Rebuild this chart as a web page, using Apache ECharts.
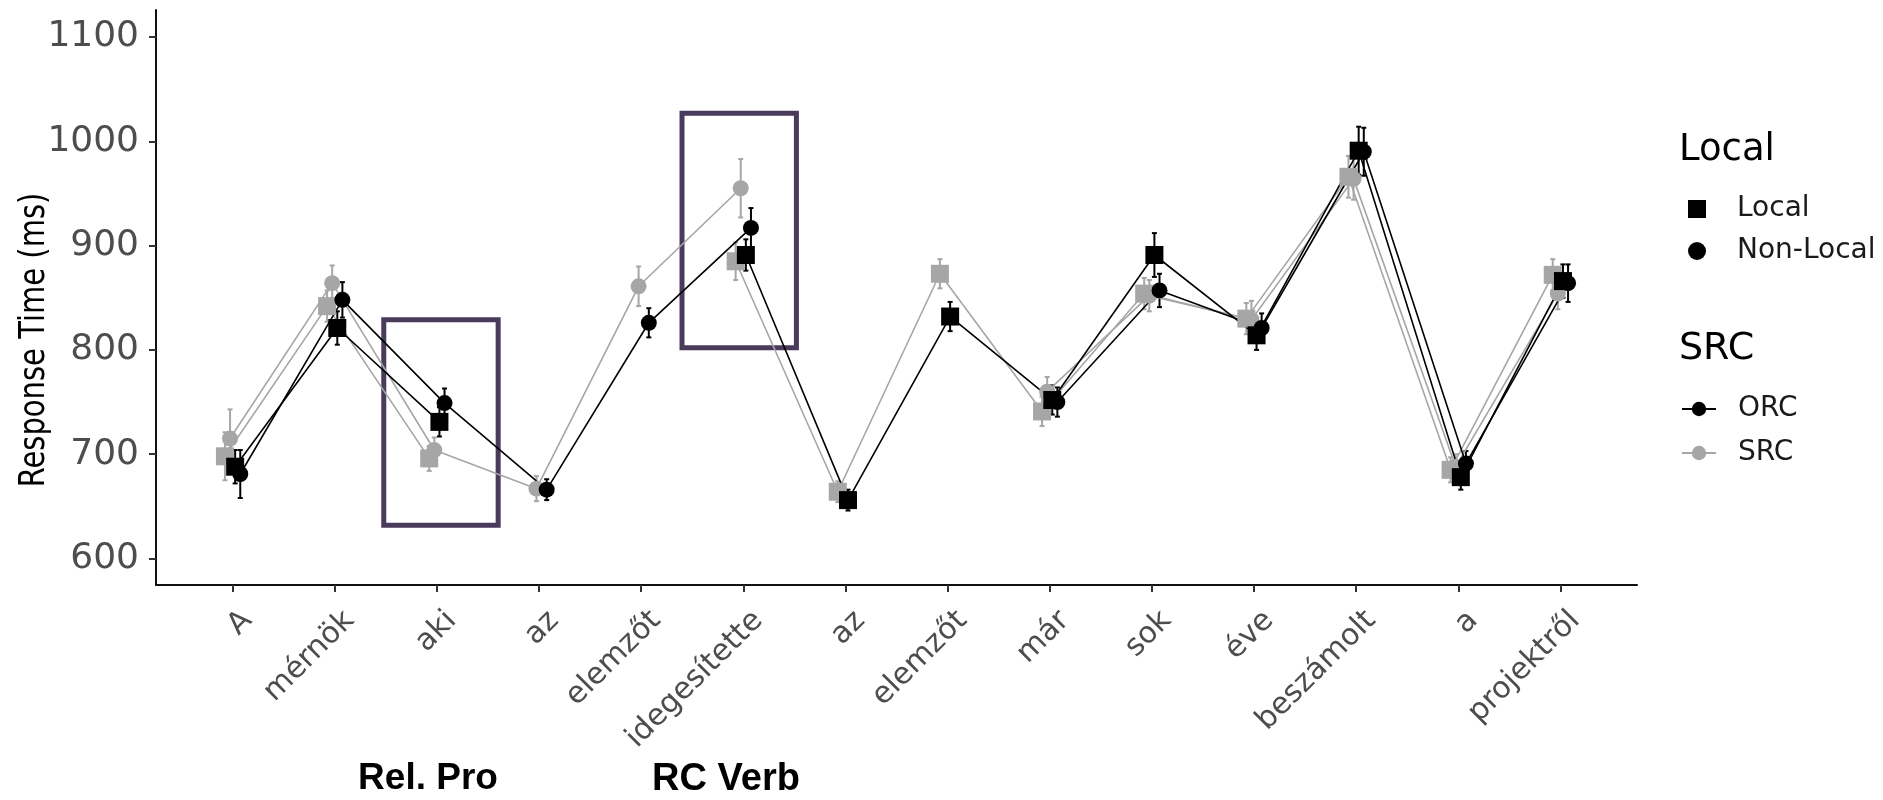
<!DOCTYPE html>
<html lang="hu">
<head>
    <meta charset="UTF-8">
    <title>Response Time (ms) per word</title>
    <script src="https://cdn.jsdelivr.net/npm/echarts@6.0.0/dist/echarts.min.js"></script>
    <style>
        html, body { margin: 0; padding: 0; background: #fff; }
        #chart { width: 1883px; height: 800px; }
    </style>
</head>
<body>
<div id="chart"></div>
<script type="text/javascript">
    // words of the sentence (x axis)
    var words = ['A', 'mérnök', 'aki', 'az', 'elemzőt', 'idegesítette', 'az', 'elemzőt', 'már', 'sok', 'éve', 'beszámolt', 'a', 'projektről'];
    var yTicks = [600, 700, 800, 900, 1000, 1100];

    // mean response times, null = word not present in that condition
    var orcLocal    = [688, 821, 731, null, null, 891, 656, 832, 752, 891, 814, 991, 678, 866];
    var orcNonLocal = [681, 848, 749, 666, 826, 917, null, null, 750, 857, 821, 990, 691, 864];
    var srcLocal    = [698, 842, 696, null, null, 885, 664, 873, 741, 854, 830, 966, 685, 872];
    var srcNonLocal = [715, 864, 704, 667, 861, 955, null, null, 760, 852, 829, 964, 688, 854];

    // error bar half widths
    var orcLocalSe    = [16, 16, 14, 0, 0, 15, 10, 14, 14, 21, 14, 23, 12, 16];
    var orcNonLocalSe = [23, 17, 14, 10, 14, 19, 0, 0, 14, 16, 14, 23, 12, 18];
    var srcLocalSe    = [23, 15, 12, 0, 0, 18, 10, 14, 14, 15, 15, 20, 12, 15];
    var srcNonLocalSe = [28, 17, 12, 12, 19, 28, 0, 0, 14, 15, 18, 20, 12, 15];

    // highlighted regions: [word from, RT from, word to, RT to]
    var boxes = [[1.48, 632, 2.60, 829], [4.40, 802, 5.52, 1027]];
    var notes = ['Rel. Pro', 'RC Verb'];

    var FONT = 'DejaVu Sans';
    var BLACK = '#000000';
    var GREY = '#a6a6a6';
    var dodge = 0.2;
    var labelShift = 0.147;

    function toPoints(vals, off) {
        return vals.map(function (v, i) {
            return [i + off, v == null ? '-' : v];
        });
    }

    function toBars(vals, se, off) {
        var out = [];
        vals.forEach(function (v, i) {
            if (v != null) out.push([i + off, v - se[i], v + se[i]]);
        });
        return out;
    }

    function errorBars(color) {
        return function (params, api) {
            var x = api.value(0);
            var lo = api.coord([x, api.value(1)]);
            var hi = api.coord([x, api.value(2)]);
            var st = { stroke: color, lineWidth: 2 };
            return {
                type: 'group',
                children: [
                    { type: 'line', shape: { x1: lo[0], y1: lo[1], x2: hi[0], y2: hi[1] }, style: st },
                    { type: 'line', shape: { x1: lo[0] - 2.5, y1: lo[1], x2: lo[0] + 2.5, y2: lo[1] }, style: st },
                    { type: 'line', shape: { x1: hi[0] - 2.5, y1: hi[1], x2: hi[0] + 2.5, y2: hi[1] }, style: st }
                ]
            };
        };
    }

    function barSeries(vals, se, off, color) {
        return {
            type: 'custom',
            renderItem: errorBars(color),
            encode: { x: 0, y: [1, 2] },
            data: toBars(vals, se, off),
            silent: true
        };
    }

    function lineSeries(name, vals, off, color, symbol, size) {
        return {
            name: name,
            type: 'line',
            data: toPoints(vals, off),
            connectNulls: false,
            symbol: symbol,
            symbolSize: size,
            showAllSymbol: true,
            itemStyle: { color: color },
            lineStyle: { color: color, width: 1.6 },
            emphasis: { disabled: true }
        };
    }

    var offSrcLocal = -3 * dodge / 8, offSrcNonLocal = -dodge / 8;
    var offOrcLocal = dodge / 8, offOrcNonLocal = 3 * dodge / 8;

    var chart = echarts.init(document.getElementById('chart'));

    var greyLocal = lineSeries('SRC Local', srcLocal, offSrcLocal, GREY, 'rect', 18);
    greyLocal.markArea = {
        silent: true,
        label: { show: false },
        itemStyle: { color: 'rgba(0,0,0,0)', borderColor: '#4a3a5c', borderWidth: 5 },
        data: boxes.map(function (b) {
            return [{ coord: [b[0], b[1]] }, { coord: [b[2], b[3]] }];
        })
    };

    chart.setOption({
        animation: false,
        grid: { left: 156, right: 246, top: 10, bottom: 215, outerBoundsMode: 'none' },
        xAxis: {
            type: 'value',
            min: -0.75,
            max: 13.75,
            splitLine: { show: false },
            axisLine: { onZero: false, lineStyle: { color: '#111', width: 2 } },
            axisTick: {
                customValues: words.map(function (w, i) { return i; }),
                length: 7,
                lineStyle: { color: '#333', width: 2 }
            },
            axisLabel: {
                customValues: words.map(function (w, i) { return i + labelShift; }),
                formatter: function (v) { return words[Math.round(v - labelShift)]; },
                rotate: 45,
                margin: 31,
                fontFamily: FONT,
                fontSize: 30,
                color: '#4d4d4d'
            }
        },
        yAxis: {
            type: 'value',
            min: 574.6,
            max: 1125.9,
            splitLine: { show: false },
            axisLine: { show: true, onZero: false, lineStyle: { color: '#111', width: 2 } },
            axisTick: {
                show: true,
                customValues: yTicks,
                length: 7,
                lineStyle: { color: '#333', width: 2 }
            },
            axisLabel: {
                customValues: yTicks,
                formatter: function (v) { return String(v); },
                margin: 17,
                fontFamily: FONT,
                fontSize: 36,
                color: '#4d4d4d'
            }
        },
        legend: [{
            orient: 'vertical',
            left: 1688,
            top: 195,
            padding: 0,
            itemWidth: 18,
            itemHeight: 18,
            itemGap: 14,
            selectedMode: false,
            textStyle: { fontFamily: FONT, fontSize: 28, lineHeight: 28, color: '#1a1a1a', padding: [0, 0, 0, 26] },
            data: [{ name: 'Local', icon: 'rect' }, { name: 'Non-Local', icon: 'circle' }]
        }, {
            orient: 'vertical',
            left: 1681,
            top: 395,
            padding: 0,
            itemWidth: 34,
            itemHeight: 18,
            itemGap: 16,
            selectedMode: false,
            textStyle: { fontFamily: FONT, fontSize: 28, lineHeight: 28, color: '#1a1a1a', padding: [0, 0, 0, 17] },
            data: ['ORC', 'SRC']
        }],
        graphic: [
            { type: 'text', x: 35, y: 340, rotation: Math.PI / 2, scaleY: 1.2,
              style: { text: 'Response Time (ms)', font: '29px "DejaVu Sans"', fill: '#000', align: 'center', verticalAlign: 'middle' } },
            { type: 'text', x: 1679, y: 150,
              style: { text: 'Local', font: '37px "DejaVu Sans"', fill: '#000', align: 'left', verticalAlign: 'middle' } },
            { type: 'text', x: 1679, y: 349,
              style: { text: 'SRC', font: '38px "DejaVu Sans"', fill: '#000', align: 'left', verticalAlign: 'middle' } },
            { type: 'text', x: 428, y: 779,
              style: { text: notes[0], font: 'bold 37px "Liberation Sans"', fill: '#000', align: 'center', verticalAlign: 'middle' } },
            { type: 'text', x: 726, y: 780,
              style: { text: notes[1], font: 'bold 38px "Liberation Sans"', fill: '#000', align: 'center', verticalAlign: 'middle' } }
        ],
        series: [
            barSeries(srcLocal, srcLocalSe, offSrcLocal, GREY),
            barSeries(srcNonLocal, srcNonLocalSe, offSrcNonLocal, GREY),
            greyLocal,
            lineSeries('SRC Non-Local', srcNonLocal, offSrcNonLocal, GREY, 'circle', 16),
            barSeries(orcLocal, orcLocalSe, offOrcLocal, BLACK),
            barSeries(orcNonLocal, orcNonLocalSe, offOrcNonLocal, BLACK),
            lineSeries('ORC Local', orcLocal, offOrcLocal, BLACK, 'rect', 18),
            lineSeries('ORC Non-Local', orcNonLocal, offOrcNonLocal, BLACK, 'circle', 16),
            // legend entries
            { name: 'Local', type: 'line', data: [], itemStyle: { color: BLACK } },
            { name: 'Non-Local', type: 'line', data: [], itemStyle: { color: BLACK } },
            { name: 'ORC', type: 'line', data: [], symbol: 'circle', itemStyle: { color: BLACK }, lineStyle: { color: BLACK, width: 2 } },
            { name: 'SRC', type: 'line', data: [], symbol: 'circle', itemStyle: { color: GREY }, lineStyle: { color: GREY, width: 2 } }
        ]
    });

    window.addEventListener('resize', function () {
        chart.resize();
    });
</script>
</body>
</html>
